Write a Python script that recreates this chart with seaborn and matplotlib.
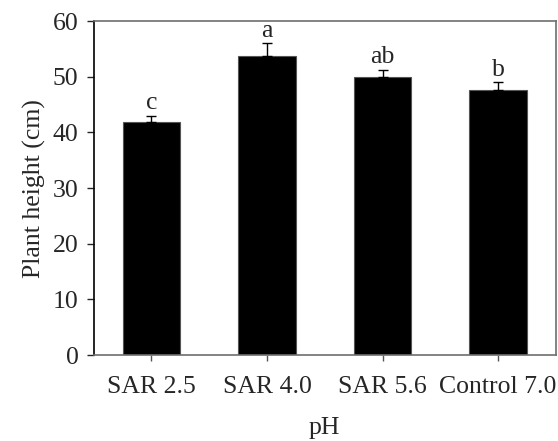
import matplotlib
matplotlib.use('Agg')
import matplotlib.pyplot as plt
import seaborn as sns
import numpy as np

treatments = ['SAR 2.5', 'SAR 4.0', 'SAR 5.6', 'Control 7.0']
heights = [41.9, 53.8, 49.9, 47.6]
errors = [1.1, 2.2, 1.4, 1.4]
letters = ['c', 'a', 'ab', 'b']

sns.set_style('white')
plt.rcParams['font.family'] = ['Liberation Serif', 'DejaVu Serif']
plt.rcParams['font.size'] = 18.5

fig = plt.figure(figsize=(5.58, 4.41), dpi=100)
axes = fig.add_axes([0.168, 0.195, 0.828, 0.757])

sns.barplot(x=treatments, y=heights, color='black', width=0.5,
            saturation=1, ax=axes, edgecolor='#555555', linewidth=0.8)

# one-sided error bars (upper only)
x = np.arange(len(treatments))
axes.errorbar(x, heights, yerr=[np.zeros(len(errors)), errors], fmt='none',
              ecolor='black', elinewidth=1, capsize=3.6, capthick=1)

for xi, h, e, letter in zip(x, heights, errors, letters):
    axes.text(xi, h + e + 0.3, letter, ha='center', va='bottom')

axes.set_xlim(-0.5, 3.5)
axes.set_ylim(0, 60)
axes.set_yticks(range(0, 61, 10))
axes.set_xlabel('pH', labelpad=14)
axes.set_ylabel('Plant height (cm)', labelpad=5)

axes.tick_params(axis='y', direction='out', length=5, width=1, pad=6, left=True)
axes.tick_params(axis='x', direction='out', length=4, width=1, pad=11, bottom=True,
                 color='#555555')

axes.spines['left'].set_color('black')
for side in ['top', 'right', 'bottom']:
    axes.spines[side].set_color('#6e6e6e')
for spine in axes.spines.values():
    spine.set_linewidth(1.2)

fig.savefig('out.png', dpi=100)
